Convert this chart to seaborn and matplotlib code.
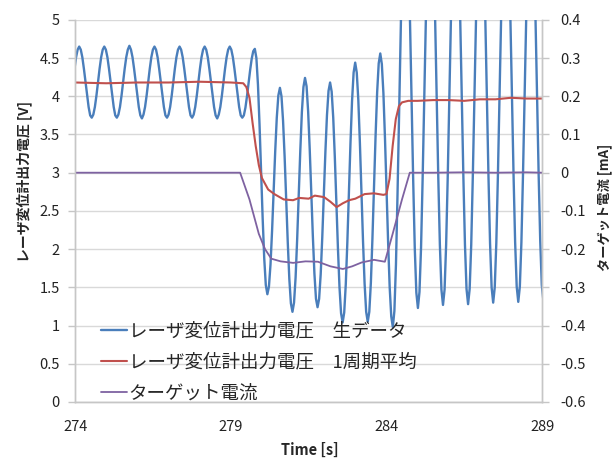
import numpy as np
import matplotlib
matplotlib.use('Agg')
import matplotlib.pyplot as plt
import seaborn as sns

# raw laser displacement voltage [V], sampled every 1/16 of an oscillation period
raw_t0 = 273.9789
raw_dt = 0.050375
raw_v = [
    4.36, 4.51, 4.61, 4.65,
    4.61, 4.51, 4.36, 4.19, 4.01, 3.86, 3.75, 3.72,
    3.76, 3.86, 4.01, 4.19, 4.36, 4.51, 4.61, 4.65,
    4.61, 4.51, 4.36, 4.19, 4.01, 3.86, 3.75, 3.72,
    3.76, 3.86, 4.01, 4.19, 4.36, 4.51, 4.61, 4.66,
    4.61, 4.51, 4.36, 4.19, 4.01, 3.86, 3.75, 3.71,
    3.76, 3.86, 4.01, 4.19, 4.36, 4.51, 4.61, 4.65,
    4.61, 4.51, 4.36, 4.19, 4.01, 3.86, 3.75, 3.72,
    3.76, 3.86, 4.01, 4.19, 4.36, 4.51, 4.61, 4.65,
    4.61, 4.51, 4.36, 4.19, 4.01, 3.86, 3.75, 3.72,
    3.76, 3.86, 4.01, 4.19, 4.36, 4.51, 4.61, 4.65,
    4.61, 4.51, 4.36, 4.19, 4.01, 3.86, 3.75, 3.71,
    3.76, 3.86, 4.01, 4.19, 4.36, 4.51, 4.61, 4.65,
    4.61, 4.51, 4.36, 4.19, 4.01, 3.86, 3.75, 3.72,
    3.75, 3.85, 4.00, 4.17, 4.34, 4.49, 4.59, 4.62,
    4.50, 4.15, 3.63, 3.02, 2.40, 1.88, 1.53, 1.41,
    1.51, 1.80, 2.24, 2.76, 3.28, 3.72, 4.01, 4.11,
    4.00, 3.68, 3.21, 2.65, 2.09, 1.61, 1.29, 1.18,
    1.30, 1.63, 2.13, 2.71, 3.29, 3.79, 4.12, 4.24,
    4.13, 3.80, 3.31, 2.74, 2.17, 1.68, 1.35, 1.24,
    1.35, 1.67, 2.15, 2.71, 3.27, 3.75, 4.07, 4.18,
    4.06, 3.72, 3.21, 2.61, 2.01, 1.50, 1.16, 1.04,
    1.17, 1.54, 2.09, 2.74, 3.39, 3.94, 4.31, 4.44,
    4.31, 3.95, 3.39, 2.75, 2.10, 1.55, 1.18, 1.05,
    1.18, 1.56, 2.14, 2.81, 3.48, 4.05, 4.43, 4.56,
    4.42, 4.04, 3.45, 2.77, 2.09, 1.50, 1.12, 0.98,
    1.19, 1.80, 2.72, 3.79, 4.86, 5.78, 6.39, 6.60,
    6.40, 5.82, 4.94, 3.92, 2.89, 2.01, 1.43, 1.23,
    1.44, 2.02, 2.91, 3.94, 4.98, 5.86, 6.44, 6.65,
    6.45, 5.87, 4.99, 3.96, 2.93, 2.06, 1.47, 1.27,
    1.47, 2.06, 2.93, 3.96, 4.99, 5.87, 6.45, 6.65,
    6.45, 5.87, 4.99, 3.97, 2.94, 2.06, 1.48, 1.28,
    1.48, 2.06, 2.94, 3.97, 4.99, 5.87, 6.45, 6.65,
    6.45, 5.87, 5.00, 3.98, 2.95, 2.08, 1.50, 1.30,
    1.50, 2.08, 2.95, 3.98, 5.00, 5.87, 6.45, 6.65,
    6.45, 5.87, 5.00, 3.98, 2.96, 2.09, 1.51, 1.31,
    1.51, 2.09, 2.96, 3.98, 5.00, 5.87, 6.45, 6.65,
    6.45, 5.87, 5.01, 3.99, 2.97, 2.11, 1.53, 1.33,
]
raw_t = raw_t0 + raw_dt * np.arange(len(raw_v))

# one-period average of the voltage [V]
avg_t = [274, 275, 276, 277, 278, 279, 279.4, 279.5, 279.6, 279.7, 279.8, 279.9,
         280.0, 280.2, 280.4, 280.7, 281.0, 281.2, 281.5, 281.7, 282.0, 282.2,
         282.4, 282.6, 282.8, 283.0, 283.3, 283.6, 283.9, 284.0, 284.1, 284.2,
         284.3, 284.4, 284.5, 284.7, 285, 285.5, 286, 286.5, 287, 287.5, 288,
         288.5, 289]
avg_v = [4.18, 4.17, 4.18, 4.18, 4.19, 4.18, 4.17, 4.12, 3.98, 3.65, 3.35, 3.10,
         2.93, 2.78, 2.72, 2.65, 2.64, 2.67, 2.66, 2.70, 2.68, 2.62,
         2.55, 2.60, 2.64, 2.66, 2.72, 2.73, 2.71, 2.72, 2.92, 3.35,
         3.70, 3.87, 3.92, 3.94, 3.94, 3.95, 3.95, 3.94, 3.96, 3.96, 3.98,
         3.97, 3.97]

# target current [mA]
cur_t = [274, 276, 278, 279.3, 279.6, 279.9, 280.1, 280.3, 280.6, 281.0, 281.4,
         281.8, 282.2, 282.6, 282.9, 283.2, 283.6, 283.95, 284.2, 284.5, 284.75,
         285.5, 286.5, 287.5, 288.5, 289]
cur_ma = [0, 0, 0, 0, -0.07, -0.16, -0.20, -0.225, -0.232, -0.236, -0.232,
          -0.233, -0.245, -0.252, -0.245, -0.235, -0.228, -0.233, -0.16, -0.07, 0,
          0, 0.001, 0, 0.001, 0]

series_labels = ['レーザ変位計出力電圧\u3000生データ',
                 'レーザ変位計出力電圧\u30001周期平均',
                 'ターゲット電流']
x_ticks = [274, 279, 284, 289]
left_ticks = [0, 0.5, 1, 1.5, 2, 2.5, 3, 3.5, 4, 4.5, 5]
left_tick_labels = ['0', '0.5', '1', '1.5', '2', '2.5', '3', '3.5', '4', '4.5', '5']
right_ticks = [-0.6, -0.5, -0.4, -0.3, -0.2, -0.1, 0, 0.1, 0.2, 0.3, 0.4]
right_tick_labels = ['-0.6', '-0.5', '-0.4', '-0.3', '-0.2', '-0.1', '0',
                     '0.1', '0.2', '0.3', '0.4']

sns.set_style('white')
plt.rcParams['font.family'] = ['Noto Sans CJK JP', 'DejaVu Sans']
plt.rcParams['axes.unicode_minus'] = False

blue = '#4a7ebb'
red = '#c0504d'
purple = '#7e62a1'
grid_c = '#d9d9d9'
axis_c = '#c6c6c6'

fig = plt.figure(figsize=(6.16, 4.61), dpi=100)
ax = fig.add_axes([0.122, 0.128, 0.758, 0.829])
ax2 = ax.twinx()

sns.lineplot(x=raw_t, y=raw_v, ax=ax, color=blue, linewidth=1.7,
             estimator=None, label=series_labels[0])
sns.lineplot(x=avg_t, y=avg_v, ax=ax, color=red, linewidth=1.5,
             estimator=None, label=series_labels[1])
sns.lineplot(x=cur_t, y=cur_ma, ax=ax2, color=purple, linewidth=1.3,
             estimator=None, label=series_labels[2])

ax.set_xlim(274, 289)
ax.set_ylim(0, 5)
ax2.set_ylim(-0.6, 0.4)

ax.set_xticks(x_ticks)
ax.set_xticklabels([str(v) for v in x_ticks])
ax.set_yticks(left_ticks)
ax.set_yticklabels(left_tick_labels)
ax2.set_yticks(right_ticks)
ax2.set_yticklabels(right_tick_labels)

ax.grid(False)
ax2.grid(False)
for v in left_ticks:
    ax.axhline(v, color=grid_c, linewidth=1.0, zorder=0)

for a in (ax, ax2):
    for s in a.spines.values():
        s.set_color(axis_c)
        s.set_linewidth(1.0)
    a.spines['top'].set_visible(False)
ax.tick_params(axis='both', which='major', labelsize=10.5, colors='#222222',
               direction='out', length=5, width=1.0, color=axis_c)
ax.tick_params(axis='y', pad=6)
ax.tick_params(axis='x', pad=8)
ax2.tick_params(axis='y', labelsize=10.5, labelcolor='#222222', direction='out',
                length=5, width=1.0, color=axis_c, pad=8)

ax.set_xlabel('Time [s]', fontsize=10.5, fontweight='bold')
ax.xaxis.set_label_coords(0.503, -0.105)
ax.set_ylabel('レーザ変位計出力電圧 [V]', fontsize=10, fontweight='bold')
ax.yaxis.set_label_coords(-0.092, 0.576)
ax2.set_ylabel('ターゲット電流 [mA]', fontsize=9.5, fontweight='bold')
ax2.yaxis.set_label_coords(1.118, 0.51)

h1, l1 = ax.get_legend_handles_labels()
h2, l2 = ax2.get_legend_handles_labels()
if ax.get_legend() is not None:
    ax.get_legend().remove()
if ax2.get_legend() is not None:
    ax2.get_legend().remove()
ax2.legend(h1 + h2, l1 + l2, loc='upper left', bbox_to_anchor=(0.055, 0.207),
           frameon=False, fontsize=13.3, handlelength=1.4, handletextpad=0.1,
           labelspacing=0.69, borderpad=0, borderaxespad=0)

fig.savefig('out.png', dpi=100)
